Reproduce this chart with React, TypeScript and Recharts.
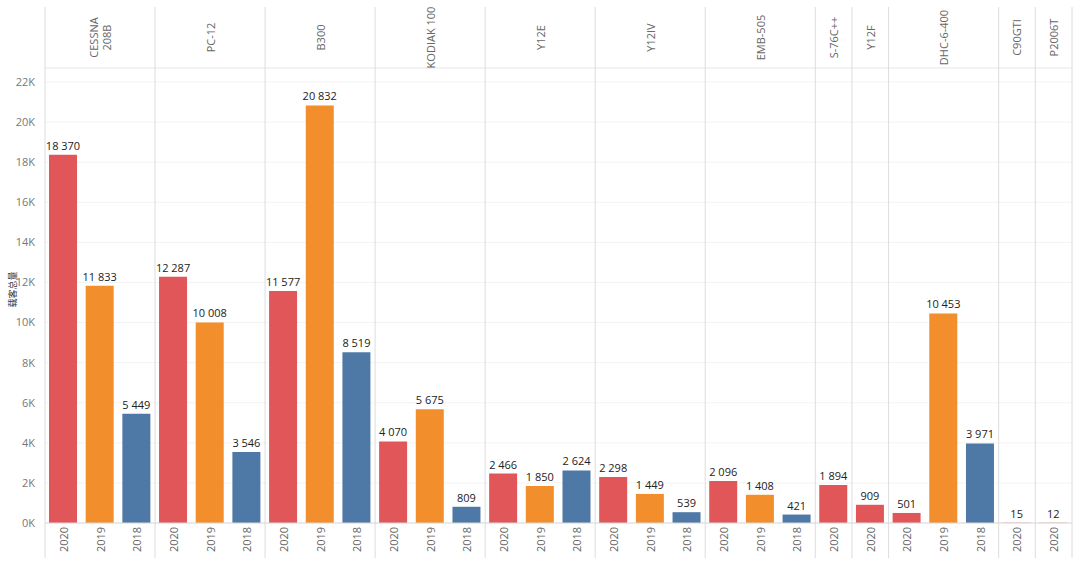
import React from 'react';
import { BarChart, Bar, XAxis, YAxis, CartesianGrid, Cell, LabelList } from 'recharts';

const groups = ['CESSNA 208B', 'PC-12', 'B300', 'KODIAK 100', 'Y12E', 'Y12IV', 'EMB-505', 'S-76C++', 'Y12F', 'DHC-6-400', 'C90GTI', 'P2006T'];
const groupLines = [['CESSNA', '208B'], ['PC-12'], ['B300'], ['KODIAK 100'], ['Y12E'], ['Y12IV'], ['EMB-505'], ['S-76C++'], ['Y12F'], ['DHC-6-400'], ['C90GTI'], ['P2006T']];
const groupYears = [
  ['2020', '2019', '2018'],
  ['2020', '2019', '2018'],
  ['2020', '2019', '2018'],
  ['2020', '2019', '2018'],
  ['2020', '2019', '2018'],
  ['2020', '2019', '2018'],
  ['2020', '2019', '2018'],
  ['2020'],
  ['2020'],
  ['2020', '2019', '2018'],
  ['2020'],
  ['2020'],
];
const groupValues = [
  [18370, 11833, 5449],
  [12287, 10008, 3546],
  [11577, 20832, 8519],
  [4070, 5675, 809],
  [2466, 1850, 2624],
  [2298, 1449, 539],
  [2096, 1408, 421],
  [1894],
  [909],
  [501, 10453, 3971],
  [15],
  [12],
];
const yTicks = [0, 2000, 4000, 6000, 8000, 10000, 12000, 14000, 16000, 18000, 20000, 22000];
const yearColors: Record<string, string> = { '2020': '#E15759', '2019': '#F28E2B', '2018': '#4E79A7' };
const yTitle = '载客总量';

type Row = { id: string; group: number; year: string; value: number; first: boolean; last: boolean; size: number };
const data: Row[] = [];
groups.forEach((g, gi) => {
  groupYears[gi].forEach((yr, yi) => {
    data.push({
      id: `${g}-${yr}`,
      group: gi,
      year: yr,
      value: groupValues[gi][yi],
      first: yi === 0,
      last: yi === groupYears[gi].length - 1,
      size: groupYears[gi].length,
    });
  });
});

const W = 1080;
const H = 570;
const Y_AXIS_W = 45;
const RIGHT = 8;
const PLOT_W = W - Y_AXIS_W - RIGHT;
const SLOT = PLOT_W / data.length;
const TOP = 7;
const HEADER_H = 61;
const FOOT_H = 37;
const BOTTOM_M = 10;
const LINE_TOP = TOP;
const LINE_BOTTOM = H - BOTTOM_M - 2;
const FONT = "'Open Sans', 'Noto Sans', 'Noto Sans CJK SC', sans-serif";
const SEP = '#dcdcdc';

const fmt = (v: number) => String(v).replace(/\B(?=(\d{3})+(?!\d))/g, ' ');

const TopTick = (props: any) => {
  const { x, payload } = props;
  const row = data[payload.index];
  if (!row) return null;
  const els: React.ReactNode[] = [];
  if (row.first) {
    const left = x - SLOT / 2;
    const cx = x + ((row.size - 1) * SLOT) / 2;
    const cy = TOP + HEADER_H / 2;
    const lines = groupLines[row.group];
    els.push(<line key="sep" x1={left} x2={left} y1={LINE_TOP} y2={LINE_BOTTOM} stroke={SEP} strokeWidth={1} />);
    lines.forEach((ln, li) => {
      const dx = (li - (lines.length - 1) / 2) * 13;
      els.push(
        <text
          key={`t${li}`}
          x={cx + dx}
          y={cy}
          transform={`rotate(-90 ${cx + dx} ${cy})`}
          textAnchor="middle"
          dominantBaseline="central"
          fontSize={11}
          fill="#666"
          fontFamily={FONT}
        >
          {ln}
        </text>
      );
    });
  }
  if (payload.index === data.length - 1) {
    const right = x + SLOT / 2;
    els.push(<line key="end" x1={right} x2={right} y1={LINE_TOP} y2={LINE_BOTTOM} stroke={SEP} strokeWidth={1} />);
  }
  return <g>{els}</g>;
};

const BottomTick = (props: any) => {
  const { x, payload } = props;
  const row = data[payload.index];
  if (!row) return null;
  const cy = H - BOTTOM_M - FOOT_H / 2 - 2;
  return (
    <text
      x={x}
      y={cy}
      transform={`rotate(-90 ${x} ${cy})`}
      textAnchor="middle"
      dominantBaseline="central"
      fontSize={11}
      fill="#666"
      fontFamily={FONT}
    >
      {row.year}
    </text>
  );
};

const ValueLabel = (props: any) => {
  const { x, y, width, value } = props;
  const cx = Number(x) + Number(width) / 2;
  return (
    <text x={cx} y={Number(y) - 5} textAnchor="middle" fontSize={11} fill="#222" fontFamily={FONT}>
      {fmt(Number(value))}
    </text>
  );
};

const YTitle = (props: any) => {
  const vb = props.viewBox || {};
  const cx = 12;
  const cy = Number(vb.y) + Number(vb.height) / 2 - 6;
  return (
    <text
      x={cx}
      y={cy}
      transform={`rotate(-90 ${cx} ${cy})`}
      textAnchor="middle"
      dominantBaseline="central"
      fontSize={9}
      fill="#333"
      fontFamily={FONT}
    >
      {yTitle}
    </text>
  );
};

export default function App() {
  return (
    <div style={{ position: 'absolute', left: 0, top: 0, width: W, height: H, background: '#fff' }}>
      <BarChart
        width={W}
        height={H}
        data={data}
        margin={{ top: TOP, right: RIGHT, bottom: BOTTOM_M, left: 0 }}
        barSize={28}
      >
        <CartesianGrid vertical={false} stroke="#f3f3f3" />
        <XAxis
          dataKey="id"
          interval={0}
          height={FOOT_H}
          tick={<BottomTick />}
          tickLine={false}
          axisLine={{ stroke: '#d9d9d9' }}
        />
        <XAxis
          xAxisId="top"
          orientation="top"
          dataKey="id"
          interval={0}
          height={HEADER_H}
          tick={<TopTick />}
          tickLine={false}
          axisLine={{ stroke: '#ececec' }}
        />
        <YAxis
          width={Y_AXIS_W}
          domain={[0, 22700]}
          ticks={yTicks}
          allowDataOverflow
          tickFormatter={(v: number) => `${v / 1000}K`}
          tick={{ fontSize: 11, fill: '#777', fontFamily: FONT }}
          tickLine={false}
          axisLine={false}
          tickMargin={4}
          label={<YTitle />}
        />
        <Bar dataKey="value" isAnimationActive={false}>
          {data.map((d) => (
            <Cell key={d.id} fill={yearColors[d.year]} />
          ))}
          <LabelList dataKey="value" content={<ValueLabel />} />
        </Bar>
      </BarChart>
    </div>
  );
}
